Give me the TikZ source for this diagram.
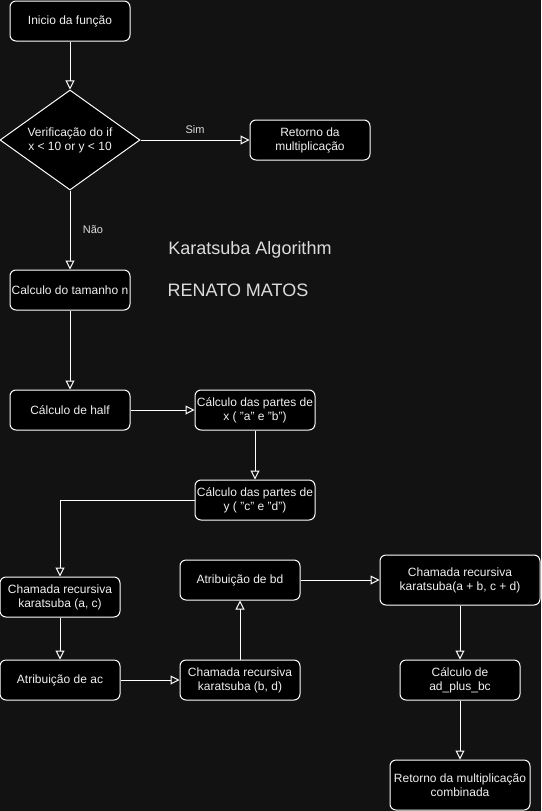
\documentclass[tikz,border=0pt]{standalone}
\usepackage{fontspec}
\setmainfont{Liberation Sans}
\usetikzlibrary{arrows.meta,shapes.geometric}

\definecolor{fundo}{RGB}{18,18,18}
\definecolor{texto}{RGB}{240,240,240}
\definecolor{rotulo}{RGB}{220,220,220}

\begin{document}
\begin{tikzpicture}[x=1pt,y=-1pt,
    caixa/.style={draw=white,fill=black,line width=1pt,rounded corners=6pt,
      text=texto,align=center,font=\fontsize{12}{14}\selectfont,
      inner sep=0pt,minimum width=120pt,minimum height=40pt},
    decisao/.style={diamond,aspect=1.4,draw=white,fill=black,line width=1pt,
      text=texto,align=center,font=\fontsize{12}{14}\selectfont,
      inner sep=0pt,minimum width=140pt,minimum height=100pt},
    seta/.style={draw=white,line width=1pt,-{Triangle[open,length=9pt,width=9pt]}},
    rot/.style={text=rotulo,font=\fontsize{11}{13}\selectfont},
    titulo/.style={text=rotulo,font=\fontsize{18}{21}\selectfont}]
      \fill[fundo] (0,0) rectangle (541,811);
      \useasboundingbox (0,0) rectangle (541,811);
      \node[caixa] (ini) at (70,21) {Inicio da função};
      \node[decisao] (dec) at (70,140) {Verificação do if\\x < 10 or y < 10};
      \node[caixa] (ret) at (310,140) {Retorno da\\multiplicação};
      \node[caixa] (tam) at (70,290) {Calculo do tamanho n};
      \node[caixa] (half) at (70,410) {Cálculo de half};
      \node[caixa] (px) at (255,410) {Cálculo das partes de\\x ( "a" e "b")};
      \node[caixa] (py) at (255,500) {Cálculo das partes de\\y ( "c" e "d")};
      \node[caixa] (rac) at (60,597) {Chamada recursiva\\karatsuba (a, c)};
      \node[caixa] (ac) at (60,680) {Atribuição de ac};
      \node[caixa] (rbd) at (240,680) {Chamada recursiva\\karatsuba (b, d)};
      \node[caixa] (bd) at (240,580) {Atribuição de bd};
      \node[caixa,minimum width=160pt,minimum height=50pt] (rsum) at (460,580)
        {Chamada recursiva\\karatsuba(a + b, c + d)};
      \node[caixa] (adbc) at (460,680) {Cálculo de\\ad\_plus\_bc};
      \node[caixa,minimum width=140pt,minimum height=50pt] (retc) at (460,785)
        {Retorno da multiplicação\\combinada};
      \node[titulo] (tit) at (250,250) {Karatsuba Algorithm};
      \node[titulo] (aut) at (238,290) {RENATO MATOS};
      \draw[seta] (ini) -- (dec);
      \draw[seta] (dec) -- node[rot,midway,above=3pt] {Sim} (ret);
      \draw[seta] (dec) -- node[rot,midway,right=9pt] {Não} (tam);
      \draw[seta] (tam) -- (half);
      \draw[seta] (half) -- (px);
      \draw[seta] (px) -- (py);
      \draw[seta] (py.west) -| (rac.north);
      \draw[seta] (rac) -- (ac);
      \draw[seta] (ac) -- (rbd);
      \draw[seta] (rbd) -- (bd);
      \draw[seta] (bd) -- (rsum);
      \draw[seta] (rsum) -- (adbc);
      \draw[seta] (adbc) -- (retc);
\end{tikzpicture}
\end{document}
